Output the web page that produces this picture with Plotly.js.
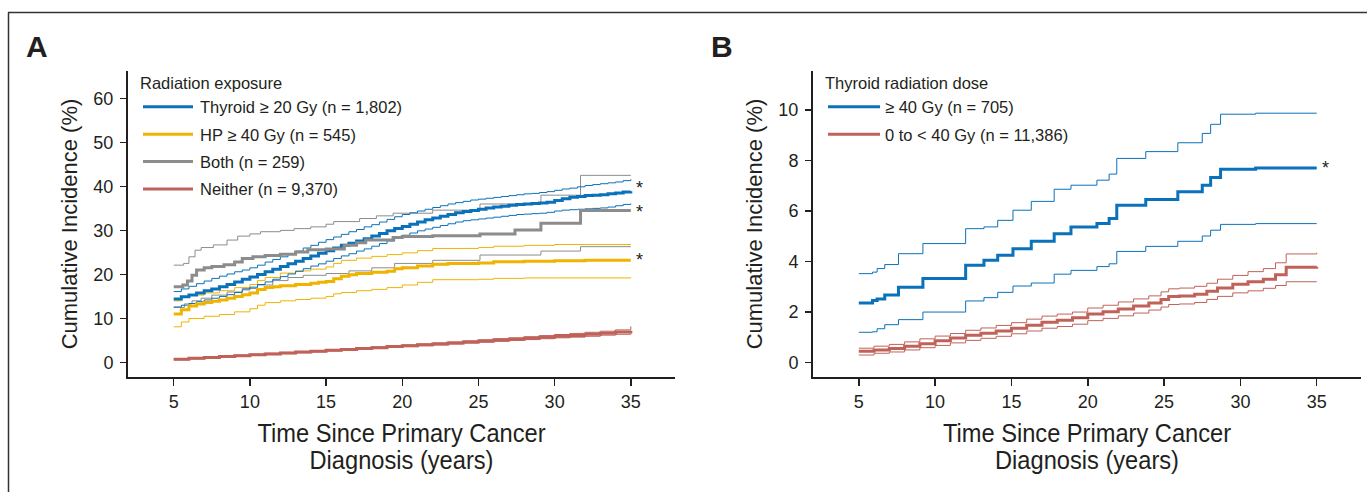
<!DOCTYPE html>
<html>
<head>
<meta charset="utf-8">
<script src="https://cdn.plot.ly/plotly-3.0.1.min.js"></script>
<style>
  html, body { margin: 0; padding: 0; background: #fff; }
  #chart { width: 1367px; height: 492px; }
</style>
</head>
<body>
<div id="chart"></div>
<script>
// ---------- Panel A: radiation exposure (years since diagnosis, cumulative incidence %) ----------
const thyroidX = [5,5.5,6,6.5,7,7.5,8,8.5,9,9.5,10,10.5,11,11.5,12,12.5,13,13.5,14,14.5,15,15.5,16,16.5,17,17.5,18,18.5,19,19.5,20,20.5,21,21.5,22,22.5,23,23.5,24,24.5,25,25.5,26,26.5,27,27.5,28,28.5,29,29.5,30,30.5,31,31.5,32,32.5,33,33.5,34,34.5,35];
const thyroidY = [14.4,14.9,15.3,15.8,16.3,16.7,17.2,17.7,18.3,18.9,19.4,20.0,20.6,21.2,21.8,22.4,23.0,23.6,24.2,24.8,25.4,26.0,26.6,27.1,27.6,28.1,28.7,29.3,29.9,30.4,30.9,31.4,31.9,32.4,32.8,33.2,33.6,34.0,34.3,34.5,34.8,35.1,35.3,35.5,35.7,35.9,36.0,36.1,36.2,36.4,36.8,37.2,37.5,37.7,37.9,38.0,38.1,38.3,38.5,38.7,38.9];
const thyroidUp = [16.1,16.7,17.3,17.9,18.5,19.1,19.6,20.1,20.6,21.0,21.5,22.1,22.8,23.4,24.0,24.7,25.3,26.0,26.6,27.3,27.9,28.5,29.1,29.7,30.2,30.8,31.3,31.9,32.5,33.1,33.6,34.0,34.4,34.8,35.2,35.6,36.0,36.3,36.6,36.9,37.1,37.3,37.5,37.7,37.9,38.1,38.3,38.4,38.6,38.8,39.1,39.4,39.6,39.9,40.2,40.4,40.6,40.8,41.0,41.3,41.6];
const thyroidLo = [12.6,13.0,13.4,13.8,14.2,14.6,15.0,15.4,15.9,16.5,17.1,17.7,18.3,18.9,19.5,20.1,20.7,21.3,21.9,22.4,23.0,23.6,24.2,24.7,25.3,25.8,26.4,27.0,27.6,28.2,28.9,29.4,29.9,30.3,30.7,31.1,31.5,31.9,32.2,32.4,32.6,32.8,33.0,33.2,33.4,33.6,33.7,33.8,33.9,34.1,34.4,34.6,34.7,34.8,34.9,35.0,35.1,35.3,35.6,35.9,36.1];

const hpX  = [5,5.5,6,6.5,7,7.5,8,8.5,9,9.5,10,10.5,11,11.5,12,13,14,14.5,15,15.5,16,16.5,17,18,19,19.5,20,21,22,23,25,26,28,30,32,35];
const hpY  = [11.0,12.0,12.8,13.3,13.6,13.9,14.2,14.6,15.0,15.4,15.8,16.6,17.0,17.2,17.4,17.7,18.0,18.2,18.4,19.0,19.6,19.9,20.2,20.5,20.7,21.3,21.5,21.9,22.3,22.5,22.6,22.9,23.0,23.1,23.2,23.2];
const hpCiX = [5,5.5,6,7,8,9,10,10.5,11,12,13,14,15,15.5,16,17,18,19,20,21,22,25,26,28,30,35];
const hpUp = [14.0,14.8,15.3,15.8,16.3,17.0,17.7,18.6,19.3,20.3,20.8,21.2,21.7,22.5,23.2,23.7,24.1,24.5,24.9,25.4,25.9,26.1,26.4,26.6,26.8,26.9];
const hpLo = [8.1,9.2,10.0,10.5,10.9,11.5,12.2,13.0,13.6,14.0,14.3,14.6,15.0,15.6,15.9,16.3,16.6,17.0,17.6,18.2,18.8,18.9,19.1,19.2,19.2,19.3];

const bothX  = [5,5.6,5.9,6.2,6.5,7.0,7.5,8.3,9.0,9.5,10.2,11.0,12.0,13.0,13.8,15.0,16.2,17.0,17.6,19.4,20.0,22.0,25.1,27.4,29.1,31.7,35];
const bothY  = [17.2,17.6,18.5,19.8,21.0,21.5,21.8,22.2,22.8,23.6,24.0,24.3,24.6,25.1,25.6,25.8,26.6,27.2,27.8,28.4,28.6,28.8,29.2,30.1,31.6,34.5,34.5];
const bothUpX = [5,5.65,6.0,6.4,6.8,7.6,8.5,9.2,10.0,10.7,12.0,12.9,14.0,15.0,15.5,17.2,18.3,19.4,22.0,25.1,29.1,31.7,35];
const bothUp  = [22.1,22.5,24.0,25.5,26.1,26.7,27.8,28.7,29.2,29.7,30.0,30.4,30.8,31.4,32.0,32.7,33.3,33.9,34.6,36.0,38.0,42.5,42.5];
const bothLoX = [5,5.7,6.2,6.8,7.5,8.5,9.5,10.5,11.5,12.5,13.5,15.0,16.5,18.0,19.5,22.0,25.1,29.1,31.7,35];
const bothLo  = [12.5,13.3,14.0,14.6,15.3,16.0,16.8,17.6,18.6,19.3,19.8,20.2,20.8,21.5,22.5,23.2,24.4,25.3,26.3,26.3];

const neitherX  = [5,6,7,8,9,10,11,12,13,14,15,16,17,18,19,20,21,22,23,24,25,26,27,28,29,30,31,32,33,34,35];
const neitherY  = [0.75,0.95,1.15,1.35,1.55,1.75,1.95,2.15,2.35,2.55,2.75,2.95,3.15,3.35,3.6,3.8,4.0,4.2,4.4,4.65,4.9,5.1,5.3,5.5,5.75,5.95,6.15,6.4,6.65,6.9,7.2];
const neitherUp = [0.9,1.1,1.3,1.5,1.7,1.9,2.1,2.3,2.5,2.7,2.9,3.1,3.3,3.55,3.8,4.0,4.2,4.45,4.65,4.9,5.15,5.4,5.6,5.85,6.1,6.35,6.6,6.85,7.1,7.4,8.2];
const neitherLo = [0.6,0.8,1.0,1.2,1.4,1.6,1.8,2.0,2.2,2.4,2.6,2.8,3.0,3.2,3.4,3.6,3.8,4.0,4.2,4.4,4.6,4.8,5.0,5.2,5.4,5.6,5.75,5.95,6.2,6.4,6.6];

// ---------- Panel B: thyroid radiation dose ----------
const hiX  = [5,5.9,6.2,6.7,7.6,9.2,12.0,13.2,14.1,15.1,16.3,17.8,18.9,20.6,21.4,21.9,23.8,25.9,27.5,28.05,28.7,31.0,35];
const hiY  = [2.36,2.46,2.52,2.68,2.98,3.33,3.85,4.05,4.25,4.51,4.8,5.1,5.37,5.5,5.7,6.23,6.45,6.76,7.02,7.33,7.65,7.7,7.7];
const hiUp = [3.52,3.58,3.72,3.88,4.31,4.71,5.3,5.37,5.63,6.03,6.38,6.86,7.02,7.22,7.46,8.08,8.35,8.7,9.07,9.43,9.83,9.87,9.87];
const hiLo = [1.2,1.22,1.34,1.5,1.7,2.0,2.44,2.57,2.78,3.03,3.15,3.5,3.65,3.8,3.91,4.4,4.6,4.8,5.01,5.24,5.47,5.5,5.5];

const loX  = [5,6,7,8,9,10,11,12,13,14,15,16,17,18,19,20,21,22,23,24,24.8,25.3,26,27,27.8,28.5,29.5,30.5,31.5,32.3,33.0,35];
const loY  = [0.45,0.5,0.56,0.65,0.75,0.86,0.97,1.08,1.16,1.25,1.36,1.48,1.6,1.68,1.77,1.92,2.01,2.12,2.24,2.36,2.5,2.62,2.64,2.7,2.82,2.95,3.1,3.2,3.3,3.48,3.77,3.79];
const loUp = [0.57,0.65,0.72,0.82,0.94,1.05,1.15,1.28,1.37,1.47,1.58,1.72,1.84,1.92,2.0,2.16,2.27,2.4,2.52,2.64,2.8,2.92,2.95,3.02,3.14,3.3,3.45,3.6,3.72,3.95,4.3,4.35];
const loLo = [0.3,0.37,0.42,0.5,0.59,0.68,0.78,0.88,0.96,1.04,1.14,1.25,1.36,1.43,1.52,1.66,1.75,1.85,1.96,2.08,2.2,2.3,2.32,2.38,2.5,2.62,2.76,2.84,2.94,3.05,3.2,3.2];

const labelsA = ['Thyroid \u2265 20 Gy (n = 1,802)', 'HP \u2265 40 Gy (n = 545)', 'Both (n = 259)', 'Neither (n = 9,370)'];
const labelsB = ['\u2265 40 Gy (n = 705)', '0 to < 40 Gy (n = 11,386)'];
const xTicks = [5,10,15,20,25,30,35];
const yTicksA = [0,10,20,30,40,50,60];
const yTicksB = [0,2,4,6,8,10];

const BLUE = '#0a72ba', GOLD = '#f0b400', GRAY = '#8c8c8c', RED = '#c0625a';
const TXT = '#231f20';
const FONT = 'Liberation Sans, Arial, Helvetica, sans-serif';

function ci(x, y, color, xa, ya) {
  return {x: x, y: y, type: 'scatter', mode: 'lines', line: {color: color, width: 1, shape: 'hv'},
          showlegend: false, hoverinfo: 'skip', xaxis: xa, yaxis: ya};
}
function main(x, y, color, name, xa, ya, lg, grp) {
  return {x: x, y: y, type: 'scatter', mode: 'lines', name: name, legendgroup: grp,
          line: {color: color, width: 3, shape: 'hv'}, xaxis: xa, yaxis: ya, legend: lg};
}

const traces = [
  ci(neitherX, neitherUp, RED, 'x', 'y'), ci(neitherX, neitherLo, RED, 'x', 'y'),
  ci(hpCiX, hpUp, GOLD, 'x', 'y'), ci(hpCiX, hpLo, GOLD, 'x', 'y'),
  ci(bothUpX, bothUp, GRAY, 'x', 'y'), ci(bothLoX, bothLo, GRAY, 'x', 'y'),
  ci(thyroidX, thyroidUp, BLUE, 'x', 'y'), ci(thyroidX, thyroidLo, BLUE, 'x', 'y'),
  main(thyroidX, thyroidY, BLUE, labelsA[0], 'x', 'y', 'legend', 'a1'),
  main(hpX, hpY, GOLD, labelsA[1], 'x', 'y', 'legend', 'a2'),
  main(bothX, bothY, GRAY, labelsA[2], 'x', 'y', 'legend', 'a3'),
  main(neitherX, neitherY, RED, labelsA[3], 'x', 'y', 'legend', 'a4'),
  ci(hiX, hiUp, BLUE, 'x2', 'y2'), ci(hiX, hiLo, BLUE, 'x2', 'y2'),
  ci(loX, loUp, RED, 'x2', 'y2'), ci(loX, loLo, RED, 'x2', 'y2'),
  main(hiX, hiY, BLUE, labelsB[0], 'x2', 'y2', 'legend2', 'b1'),
  main(loX, loY, RED, labelsB[1], 'x2', 'y2', 'legend2', 'b2')
];

const W = 1367, H = 492, ML = 128, MR = 6, MT = 71, MB = 115;
const PW = W - ML - MR, PH = H - MT - MB;
const px = v => (v - ML) / PW;          // pixel -> paper x
const py = v => (H - MB - v) / PH;      // pixel -> paper y

const xAxisBase = {
  range: [2.0, 37.9], tickvals: xTicks, ticks: 'outside', ticklen: 7, tickwidth: 1.5, tickcolor: TXT,
  showline: true, linewidth: 2, linecolor: TXT, showgrid: false, zeroline: false,
  tickfont: {family: FONT, size: 18, color: TXT},
  title: {text: 'Time Since Primary Cancer<br>Diagnosis (years)', font: {family: FONT, size: 26, color: TXT}, standoff: 13}
};
const yAxisBase = {
  ticks: 'outside', ticklen: 6, tickwidth: 1.5, tickcolor: TXT, ticklabelstandoff: 3,
  showline: true, linewidth: 2, linecolor: TXT, showgrid: false, zeroline: false,
  tickfont: {family: FONT, size: 18, color: TXT},
  title: {text: 'Cumulative Incidence (%)', font: {family: FONT, size: 22, color: TXT}, standoff: 10}
};

const legendBase = {
  bgcolor: 'rgba(0,0,0,0)', borderwidth: 0, font: {family: FONT, size: 16.5, color: TXT},
  xanchor: 'left', yanchor: 'top', tracegroupgap: 3, itemwidth: 52, itemclick: false, itemdoubleclick: false
};

const starFont = {family: FONT, size: 18, color: TXT};
const layout = {
  width: W, height: H,
  margin: {l: ML, r: MR, t: MT, b: MB, pad: 0},
  paper_bgcolor: '#fff', plot_bgcolor: '#fff',
  font: {family: FONT, color: TXT},
  xaxis: Object.assign({}, xAxisBase, {domain: [0, px(675)], anchor: 'y'}),
  yaxis: Object.assign({}, yAxisBase, {range: [-3.3, 66.2], tickvals: yTicksA, anchor: 'x'}),
  xaxis2: Object.assign({}, xAxisBase, {domain: [px(813), 1], anchor: 'y2'}),
  yaxis2: Object.assign({}, yAxisBase, {range: [-0.57, 11.54], tickvals: yTicksB, anchor: 'x2'}),
  legend: Object.assign({}, legendBase, {x: px(138), y: py(68),
    title: {text: 'Radiation exposure', font: {family: FONT, size: 16.5, color: TXT}}}),
  legend2: Object.assign({}, legendBase, {x: px(823), y: py(68),
    title: {text: 'Thyroid radiation dose', font: {family: FONT, size: 16.5, color: TXT}}}),
  showlegend: true,
  shapes: [
    {type: 'line', xref: 'paper', yref: 'paper', x0: px(8), x1: px(1367), y0: py(12.5), y1: py(12.5), line: {color: '#333', width: 1.5}},
    {type: 'line', xref: 'paper', yref: 'paper', x0: px(8.5), x1: px(8.5), y0: py(12.5), y1: py(492), line: {color: '#333', width: 1.5}}
  ],
  annotations: [
    {text: '<b>A</b>', xref: 'paper', yref: 'paper', x: px(24), y: py(46), xanchor: 'left', yanchor: 'middle', showarrow: false, font: {family: FONT, size: 30, color: TXT}},
    {text: '<b>B</b>', xref: 'paper', yref: 'paper', x: px(709), y: py(46), xanchor: 'left', yanchor: 'middle', showarrow: false, font: {family: FONT, size: 30, color: TXT}},
    {text: '*', xref: 'x', yref: 'y', x: thyroidX[thyroidX.length - 1], y: thyroidY[thyroidY.length - 1], xanchor: 'left', yanchor: 'middle', xshift: 3, yshift: 3, showarrow: false, font: starFont},
    {text: '*', xref: 'x', yref: 'y', x: bothX[bothX.length - 1], y: bothY[bothY.length - 1], xanchor: 'left', yanchor: 'middle', xshift: 3, yshift: -1, showarrow: false, font: starFont},
    {text: '*', xref: 'x', yref: 'y', x: hpX[hpX.length - 1], y: hpY[hpY.length - 1], xanchor: 'left', yanchor: 'middle', xshift: 3, showarrow: false, font: starFont},
    {text: '*', xref: 'x2', yref: 'y2', x: hiX[hiX.length - 1], y: hiY[hiY.length - 1], xanchor: 'left', yanchor: 'middle', xshift: 3, showarrow: false, font: starFont}
  ]
};

Plotly.newPlot('chart', traces, layout, {staticPlot: true, displayModeBar: false}).then(function (gd) {
  // condensed look for the x-axis titles, with tighter line spacing
  const s = 0.91;
  gd.querySelectorAll('.g-xtitle text, .g-x2title text').forEach(function (t) {
    const cx = parseFloat(t.getAttribute('x'));
    t.setAttribute('transform', 'translate(' + (cx * (1 - s)) + ',0) scale(' + s + ',1)');
    t.querySelectorAll('tspan.line').forEach(function (ln, i) { if (i > 0) ln.setAttribute('dy', '1.06em'); });
  });
  // longer legend keys, as in the original figure
  gd.querySelectorAll('.legend .legendlines path').forEach(function (p) {
    p.setAttribute('d', 'M5,0h50');
  });
});
</script>
</body>
</html>
